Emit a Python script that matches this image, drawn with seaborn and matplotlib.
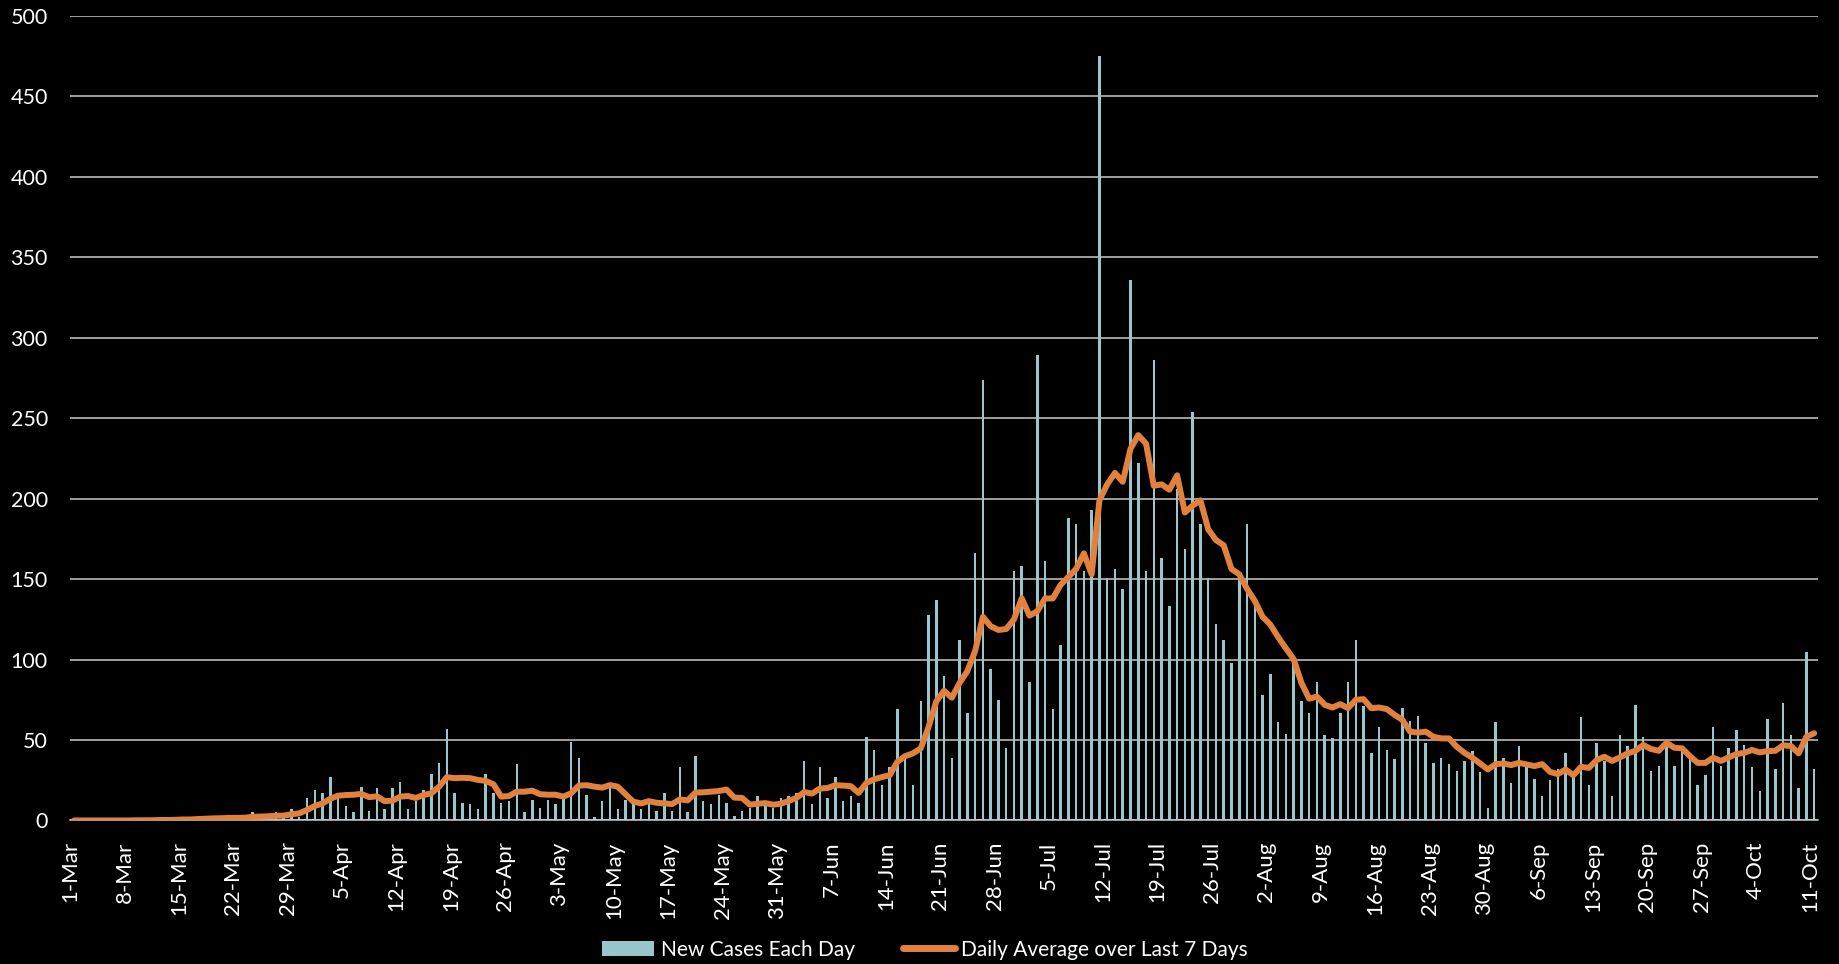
import matplotlib
matplotlib.use("Agg")
import matplotlib.pyplot as plt
import seaborn as sns
import numpy as np
import pandas as pd
from matplotlib.patches import Patch
from matplotlib.lines import Line2D

# daily new cases, 1-Mar .. 11-Oct
new_cases = [
    0, 0, 0, 0, 0, 0, 0, 0, 1, 0, 0, 1, 0, 1, 1, 0, 1, 2, 1, 2, 3, 2, 2,
    5, 3, 2, 5, 3, 7, 2, 14, 19, 17, 27, 15, 9, 5, 21, 6, 20, 7,
    20, 24, 7, 12, 19, 29, 36, 57, 17, 11, 10, 7, 29, 17, 11, 12, 35, 5,
    13, 8, 13, 10, 14, 49, 39, 16, 2, 12, 20, 7, 13, 11, 7, 11, 6, 17,
    6, 33, 5, 40, 12, 10, 16, 11, 3, 6, 8, 15, 9, 8, 14, 15, 17, 37,
    10, 33, 14, 27, 12, 15, 11, 52, 44, 22, 33, 69, 38, 22, 74, 128,
    137, 90, 39, 112, 67, 166, 274, 94, 75, 45, 155, 158, 86, 289, 161,
    69, 109, 188, 184, 155, 193, 475, 151, 156, 144, 336, 222, 155, 286,
    163, 133, 206, 169, 254, 184, 151, 122, 112, 98, 150, 184, 135, 78,
    91, 61, 54, 99, 74, 67, 86, 53, 51, 67, 86, 112, 71, 42, 58, 44, 38,
    70, 62, 65, 48, 36, 39, 35, 31, 37, 43, 30, 8, 61, 39, 23, 46, 33,
    26, 15, 25, 32, 42, 27, 64, 22, 48, 37, 15, 53, 46, 72, 52, 31, 34,
    47, 34, 43, 39, 22, 28, 58, 34, 45, 56, 47, 33, 18, 63, 32, 73, 53,
    20, 105, 32,
]

# daily average over last 7 days
avg_7day = [
    0, 0, 0, 0, 0, 0, 0, 0, 0.1, 0.1, 0.1, 0.3, 0.3, 0.4, 0.6, 0.6, 0.9,
    1.1, 1.3, 1.4, 1.6, 1.6, 1.7, 2.3, 2.4, 2.6, 2.9, 3.0, 3.9, 4.4, 6.5,
    9.0, 10.6, 13.5, 15.4, 15.8, 16.0, 16.5, 14.5, 15.0, 12.0, 12.3, 14.8,
    15.2, 14.0, 15.8, 16.9, 21.0, 26.9, 26.3, 26.5, 26.3, 25.2, 24.6, 22.5,
    14.8, 15.2, 17.9, 17.9, 18.5, 16.3, 16.0, 16.0, 14.8, 16.9, 21.7, 21.9,
    21.0, 20.4, 22.0, 21.0, 16.3, 11.7, 10.6, 12.0, 11.0, 10.6, 10.2, 13.1,
    12.5, 17.3, 17.5, 17.9, 18.3, 19.2, 14.2, 14.0, 9.8, 10.4, 10.8, 9.8,
    10.4, 12.1, 14.0, 17.7, 16.7, 19.8, 20.2, 21.9, 21.7, 21.3, 17.1, 23.3,
    25.6, 27.0, 28.1, 36.5, 40.0, 41.7, 44.8, 58.0, 74.0, 80.6, 76.3, 85.5,
    92.8, 105.3, 126.6, 120.7, 118.4, 119.0, 125.0, 138.0, 127.3, 130.0,
    138.0, 138.0, 146.4, 151.3, 156.3, 166.0, 153.0, 199.0, 208.9, 216.0,
    210.5, 231.0, 239.5, 234.2, 208.0, 208.9, 205.6, 214.5, 191.4, 195.7,
    199.0, 181.0, 174.3, 171.0, 156.3, 153.0, 144.0, 136.5, 126.6, 121.7,
    114.0, 107.0, 100.3, 85.5, 75.7, 77.0, 71.9, 70.2, 72.3, 69.8, 75.0,
    75.4, 69.8, 70.2, 69.2, 65.6, 62.5, 55.2, 54.6, 55.2, 52.0, 51.0, 51.0,
    45.8, 42.0, 39.0, 35.4, 31.7, 35.0, 35.4, 34.4, 35.8, 34.8, 33.8, 35.0,
    30.2, 28.8, 31.7, 28.1, 33.3, 32.7, 37.5, 39.6, 37.0, 39.2, 41.7, 43.3,
    46.9, 44.4, 43.3, 48.3, 45.2, 44.8, 40.0, 35.8, 35.8, 39.0, 37.0, 39.2,
    41.3, 42.0, 43.8, 42.3, 43.1, 43.3, 46.7, 46.3, 41.7, 52.0, 54.2,
]

dates = pd.date_range("2020-03-01", "2020-10-11", freq="D")
y_ticks = [0, 50, 100, 150, 200, 250, 300, 350, 400, 450, 500]

BAR = "#98C6CD"
LINE = "#E2813E"
GRID = "#C9C9C9"

df = pd.DataFrame({"day": np.arange(len(dates)), "cases": new_cases, "avg": avg_7day})

sns.set_style("dark")
plt.rcParams["font.family"] = ["Lato", "DejaVu Sans"]

fig = plt.figure(figsize=(18.39, 9.64), dpi=100, facecolor="black")
ax = fig.add_axes([0.0381, 0.1489, 0.9505, 0.8345])
ax.set_facecolor("black")

sns.barplot(data=df, x="day", y="cases", color=BAR, width=0.32,
            saturation=1, linewidth=0, edgecolor="none", ax=ax, zorder=2)
sns.lineplot(data=df, x="day", y="avg", color=LINE, lw=4.3, ax=ax,
             zorder=3, solid_capstyle="round", solid_joinstyle="round")

# week ticks sit on the left edge of each day's slot
week = np.arange(0, len(dates), 7)
ax.set_xticks(week - 0.5)
ax.set_xticklabels([f"{d.day}-{d.strftime('%b')}" for d in dates[week]],
                   rotation=90, color="white", fontsize=16)
ax.set_xlim(-0.5, len(dates) - 0.5)

ax.set_ylim(0, 500)
ax.set_yticks(y_ticks)
ax.set_yticklabels([str(v) for v in y_ticks], color="white", fontsize=15.5)
ax.yaxis.grid(True, color=GRID, lw=1.1, zorder=0)
ax.xaxis.grid(False)
ax.set_axisbelow(True)
ax.set_xlabel("")
ax.set_ylabel("")

ax.tick_params(axis="y", length=0, pad=16)
ax.tick_params(axis="x", length=7, width=1.1, color=GRID, pad=8, direction="out")
for side in ["top", "right", "left"]:
    ax.spines[side].set_visible(False)
ax.spines["bottom"].set_color(GRID)
ax.spines["bottom"].set_linewidth(1.1)

handles = [Patch(facecolor=BAR, edgecolor="none"),
           Line2D([0], [0], color=LINE, lw=5, solid_capstyle="round")]
fig.legend(handles, ["New Cases Each Day", "Daily Average over Last 7 Days"],
           loc="center", bbox_to_anchor=(0.503, 0.015), ncol=2, frameon=False,
           fontsize=15, labelcolor="white", handlelength=2.5, handleheight=0.75,
           handletextpad=0.3, columnspacing=2.3, borderpad=0.1)

fig.savefig("out.png", dpi=100, facecolor="black")
